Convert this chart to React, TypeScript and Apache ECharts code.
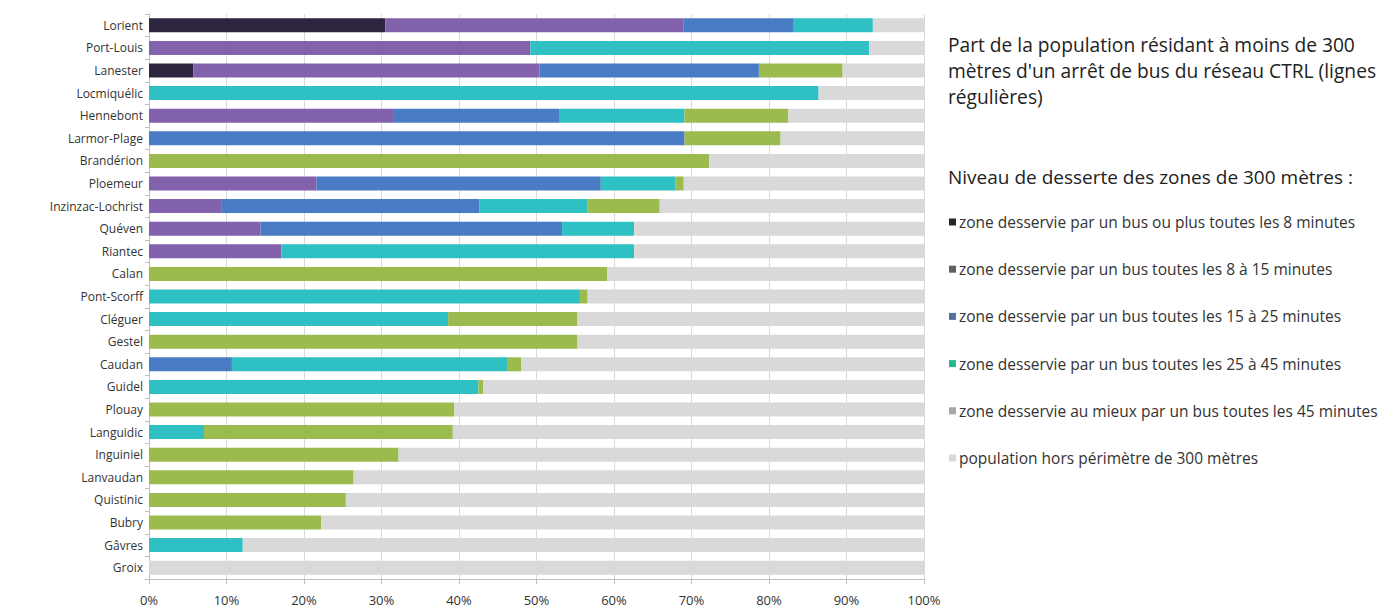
import React, { useEffect, useRef } from "react";
import * as echarts from "echarts";

const communes = [
  "Lorient", "Port-Louis", "Lanester", "Locmiquélic", "Hennebont", "Larmor-Plage",
  "Brandérion", "Ploemeur", "Inzinzac-Lochrist", "Quéven", "Riantec", "Calan",
  "Pont-Scorff", "Cléguer", "Gestel", "Caudan", "Guidel", "Plouay", "Languidic",
  "Inguiniel", "Lanvaudan", "Quistinic", "Bubry", "Gâvres", "Groix",
];

const seriesNames = [
  "zone desservie par un bus ou plus toutes les 8 minutes",
  "zone desservie par un bus toutes les 8 à 15 minutes",
  "zone desservie par un bus toutes les 15 à 25 minutes",
  "zone desservie par un bus toutes les 25 à 45 minutes",
  "zone desservie au mieux par un bus toutes les 45 minutes",
  "population hors périmètre de 300 mètres",
];

// values in %
const s8 = [30.5, 0, 5.7, 0, 0, 0, 0, 0, 0, 0, 0, 0, 0, 0, 0, 0, 0, 0, 0, 0, 0, 0, 0, 0, 0];
const s8to15 = [38.5, 49.2, 44.7, 0, 31.6, 0, 0, 21.6, 9.4, 14.4, 17.1, 0, 0, 0, 0, 0, 0, 0, 0, 0, 0, 0, 0, 0, 0];
const s15to25 = [14.2, 0, 28.3, 0, 21.4, 69.1, 0, 36.7, 33.2, 38.9, 0, 0, 0, 0, 0, 10.7, 0, 0, 0, 0, 0, 0, 0, 0, 0];
const s25to45 = [10.2, 43.7, 0, 86.4, 16.1, 0, 0, 9.6, 14.0, 9.3, 45.5, 0, 55.6, 38.6, 0, 35.6, 42.5, 0, 7.1, 0, 0, 0, 0, 12.1, 0];
const s45 = [0, 0, 10.8, 0, 13.4, 12.4, 72.3, 1.1, 9.3, 0, 0, 59.1, 1.0, 16.7, 55.3, 1.7, 0.6, 39.4, 32.1, 32.2, 26.4, 25.4, 22.2, 0, 0];
const hors = [6.6, 7.1, 10.5, 13.6, 17.5, 18.5, 27.7, 31.0, 34.1, 37.4, 37.4, 40.9, 43.4, 44.7, 44.7, 52.0, 56.9, 60.6, 60.8, 67.8, 73.6, 74.6, 77.8, 87.9, 100];

const xTicks = [0, 10, 20, 30, 40, 50, 60, 70, 80, 90, 100];

const barColors = ["#2e2540", "#8261ad", "#4a7cc6", "#2fc0c4", "#9bbb4f", "#d9d9d9"];
const legendColors = ["#262626", "#5f5f5f", "#55719c", "#23b88e", "#a6a6a6", "#d9d9d9"];

const titleLines = [
  "Part de la population résidant à moins de 300",
  "mètres d'un arrêt de bus du réseau CTRL (lignes",
  "régulières)",
];
const legendTitle = "Niveau de desserte des zones de 300 mètres :";

export default function App() {
  const ref = useRef<HTMLDivElement>(null);
  useEffect(() => {
    if (!ref.current) return;
    const chart = echarts.init(ref.current, null, { renderer: "svg" });
    const data = [s8, s8to15, s15to25, s25to45, s45, hors];
    const font = "'Open Sans', sans-serif";
    chart.setOption({
      animation: false,
      textStyle: { fontFamily: font },
      grid: { left: 149, right: 461, top: 14, bottom: 31, containLabel: false },
      xAxis: {
        type: "value",
        min: 0,
        max: 100,
        interval: 10,
        axisLabel: {
          formatter: (v: number) => (xTicks.includes(v) ? v + "%" : ""),
          color: "#333",
          fontSize: 13,
          margin: 14,
          fontFamily: font,
        },
        axisLine: { show: true, lineStyle: { color: "#bfbfbf" } },
        axisTick: { show: true, length: 5, lineStyle: { color: "#bfbfbf" } },
        splitLine: { show: true, lineStyle: { color: "#d9d9d9" } },
      },
      yAxis: {
        type: "category",
        data: communes,
        inverse: true,
        axisLabel: { color: "#333", fontSize: 12, margin: 6, fontFamily: font },
        axisLine: { show: true, lineStyle: { color: "#bfbfbf" } },
        axisTick: { show: true, length: 4, lineStyle: { color: "#bfbfbf" } },
      },
      legend: {
        orient: "vertical",
        left: 944,
        top: 208,
        icon: "rect",
        itemWidth: 7,
        itemHeight: 7,
        itemGap: 29.2,
        selectedMode: false,
        textStyle: { fontSize: 15.5, color: "#333", lineHeight: 18, fontFamily: font, padding: [0, 0, 0, -2] },
        data: seriesNames.map((n, i) => ({ name: n, itemStyle: { color: legendColors[i] } })),
      },
      graphic: [
        ...titleLines.map((t, i) => ({
          type: "text",
          left: 948,
          top: 35 + i * 26,
          style: { text: t, fontSize: 19.2, fill: "#222", fontFamily: font },
        })),
        {
          type: "text",
          left: 948,
          top: 167,
          style: { text: legendTitle, fontSize: 19, fill: "#222", fontFamily: font },
        },
      ],
      series: seriesNames.map((n, i) => ({
        name: n,
        type: "bar",
        stack: "total",
        barWidth: 14,
        data: data[i],
        itemStyle: { color: barColors[i] },
      })),
    });
    return () => chart.dispose();
  }, []);
  return (
    <div
      ref={ref}
      style={{ position: "absolute", left: 0, top: 0, width: 1385, height: 610 }}
    />
  );
}
